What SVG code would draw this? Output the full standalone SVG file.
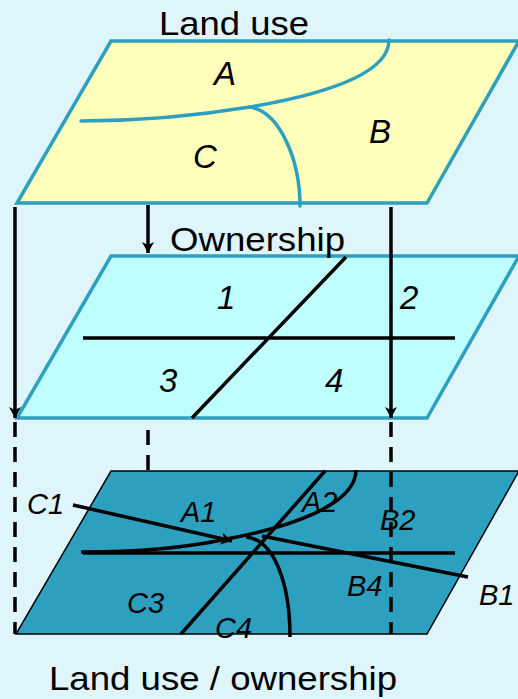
<svg xmlns="http://www.w3.org/2000/svg" width="518" height="699" viewBox="0 0 518 699">
<style>
.p{stroke:#2ca0be;stroke-width:3.5;stroke-linejoin:miter}
.c{fill:none;stroke:#2ca0be;stroke-width:3.5;stroke-linecap:round}
.k{fill:none;stroke:#000;stroke-width:3.5}
.d{fill:none;stroke:#000;stroke-width:3.5;stroke-dasharray:15 10}
.t{font-family:"Liberation Sans",Arial,sans-serif;font-size:34px;fill:#000}
.i{font-family:"Liberation Sans",Arial,sans-serif;font-size:33px;font-style:italic;fill:#000}
.s{font-family:"Liberation Sans",Arial,sans-serif;font-size:29px;font-style:italic;fill:#000}
</style>
<defs>
<marker id="a" markerUnits="userSpaceOnUse" markerWidth="14" markerHeight="14" refX="11" refY="6" orient="auto"><path d="M0,0 L11,6 L0,12 L3,6 Z" fill="#000"/></marker>
</defs>
<rect width="518" height="699" fill="#ddf5fb"/>
<g id="land-use">
<polygon class="p" points="111,41 519,41 427,203 17,203" fill="#ffffbb"/>
<path class="c" d="M81,121 C140,121 195,116 250,107 C320,95 389,75 389,40"/>
<path class="c" d="M250,107 C280,112 300,160 300,206"/>
<text class="t" x="159" y="35" textLength="150" lengthAdjust="spacingAndGlyphs">Land use</text>
<text class="i" x="214" y="85">A</text>
<text class="i" x="193" y="168">C</text>
<text class="i" x="369" y="143">B</text>
</g>
<g id="ownership">
<polygon class="p" points="111,256 519,256 427,418 17,418" fill="#bfffff"/>
<text class="t" x="170" y="251" textLength="175" lengthAdjust="spacingAndGlyphs">Ownership</text>
<text class="i" x="217" y="309">1</text>
<text class="i" x="400" y="309">2</text>
<text class="i" x="159" y="392">3</text>
<text class="i" x="325" y="392">4</text>
<path class="k" d="M83,338 H455 M346,257 L192,418"/>
</g>
<g id="overlay">
<polygon points="111,471 519,471 427,634 16,634" fill="#2ca0be" stroke="#000" stroke-width="1.5"/>
<path class="k" d="M81,552 C140,552 190,547 227,539 C290,527 356,505 356,470"/>
<path class="k" d="M246,537 C275,540 290,585 290,637"/>
<path class="k" d="M83,553 H455 M325,471 L181,634"/>
<path class="k" d="M73,505 L232,541" marker-end="url(#a)"/>
<path class="k" d="M262,536 L468,577"/>
<text class="s" x="27" y="514">C1</text>
<text class="s" x="181" y="522">A1</text>
<text class="s" x="302" y="512">A2</text>
<text class="s" x="380" y="530">B2</text>
<text class="s" x="347" y="596">B4</text>
<text class="s" x="479" y="605">B1</text>
<text class="s" x="127" y="613">C3</text>
<text class="s" x="215" y="638">C4</text>
<text class="t" x="49" y="690" textLength="348" lengthAdjust="spacingAndGlyphs">Land use / ownership</text>
</g>
<g id="connectors">
<path class="k" d="M15,207 V418" marker-end="url(#a)"/>
<path class="k" d="M148,205 V253" marker-end="url(#a)"/>
<path class="k" d="M391,207 V418" marker-end="url(#a)"/>
<path class="d" d="M15,422 V634"/>
<path class="d" d="M148,430 V471"/>
<path class="d" d="M391,422 V634"/>
</g>
</svg>
